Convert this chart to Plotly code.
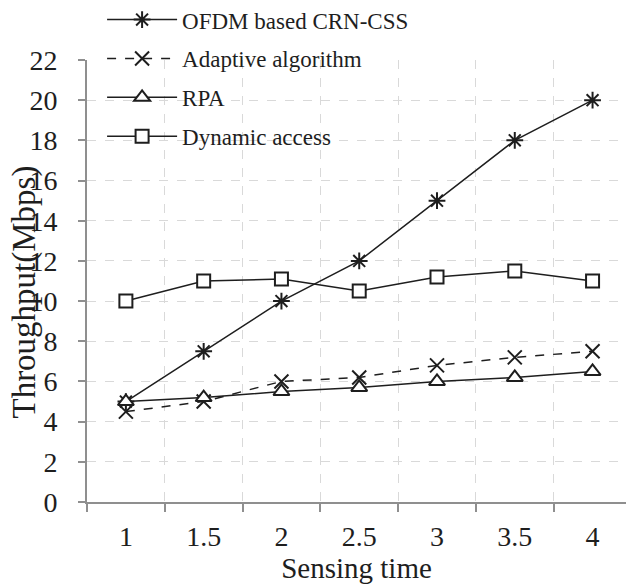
import plotly.graph_objects as go

categories = ["1", "1.5", "2", "2.5", "3", "3.5", "4"]
ofdm = [5, 7.5, 10, 12, 15, 18, 20]
adaptive = [4.5, 5, 6, 6.2, 6.8, 7.2, 7.5]
rpa = [5, 5.2, 5.5, 5.7, 6, 6.2, 6.5]
dynamic = [10, 11, 11.1, 10.5, 11.2, 11.5, 11]
series_names = ["OFDM based CRN-CSS", "Adaptive algorithm", "RPA", "Dynamic access"]
y_ticks = list(range(0, 23, 2))

INK = "#1e1e1e"
FONT = "Liberation Serif"

fig = go.Figure()
specs = [
    (series_names[0], ofdm, "solid", "asterisk-open", 14, INK),
    (series_names[1], adaptive, "dash", "x-thin-open", 14, INK),
    (series_names[2], rpa, "solid", "triangle-up", 14, "white"),
    (series_names[3], dynamic, "solid", "square", 13, "white"),
]
for i, (name, vals, dash, sym, size, fill) in enumerate(specs):
    fig.add_trace(go.Scatter(
        x=categories, y=vals, name=name, mode="lines+markers",
        legendgroup=f"g{i}",
        line=dict(color=INK, width=1.5, dash=dash),
        marker=dict(symbol=sym, size=size, color=fill if fill == "white" else INK,
                    line=dict(color=INK, width=2)),
    ))

fig.update_layout(
    width=626, height=585,
    margin=dict(l=87, r=0, t=60, b=83, autoexpand=False),
    paper_bgcolor="white", plot_bgcolor="white",
    font=dict(family=FONT, color=INK, size=26),
    legend=dict(
        x=0.028, y=1.14, xanchor="left", yanchor="top",
        bgcolor="rgba(0,0,0,0)", font=dict(size=23, family=FONT, color=INK),
        tracegroupgap=6, itemwidth=70,
    ),
    showlegend=True,
    annotations=[dict(
        text="Throughput(Mbps)", textangle=-90, showarrow=False,
        xref="paper", yref="paper", x=-0.116, y=0.475,
        xanchor="center", yanchor="middle",
        font=dict(size=33, family=FONT, color=INK),
    )],
)
fig.update_xaxes(
    type="category", range=[-0.5, 6.43], tickson="boundaries",
    showgrid=True, gridcolor="#d9d9d9", griddash="dash", gridwidth=1,
    showline=True, linecolor="#8f8f8f", linewidth=2,
    ticks="outside", ticklen=8, tickcolor="#8f8f8f", tickwidth=2,
    tickfont=dict(size=28, family=FONT, color=INK), ticklabelstandoff=8,
    title=dict(text="Sensing time", font=dict(size=29, family=FONT, color=INK), standoff=0),
    zeroline=False, automargin=False,
)
fig.update_yaxes(
    range=[0, 22], tickvals=y_ticks,
    showgrid=True, gridcolor="#d9d9d9", griddash="dash", gridwidth=1,
    showline=True, linecolor="#8f8f8f", linewidth=2,
    ticks="outside", ticklen=7, tickcolor="#8f8f8f", tickwidth=2,
    tickfont=dict(size=28, family=FONT, color=INK), ticklabelstandoff=15,
    zeroline=False, automargin=False,
)
fig.write_html("out.html")
